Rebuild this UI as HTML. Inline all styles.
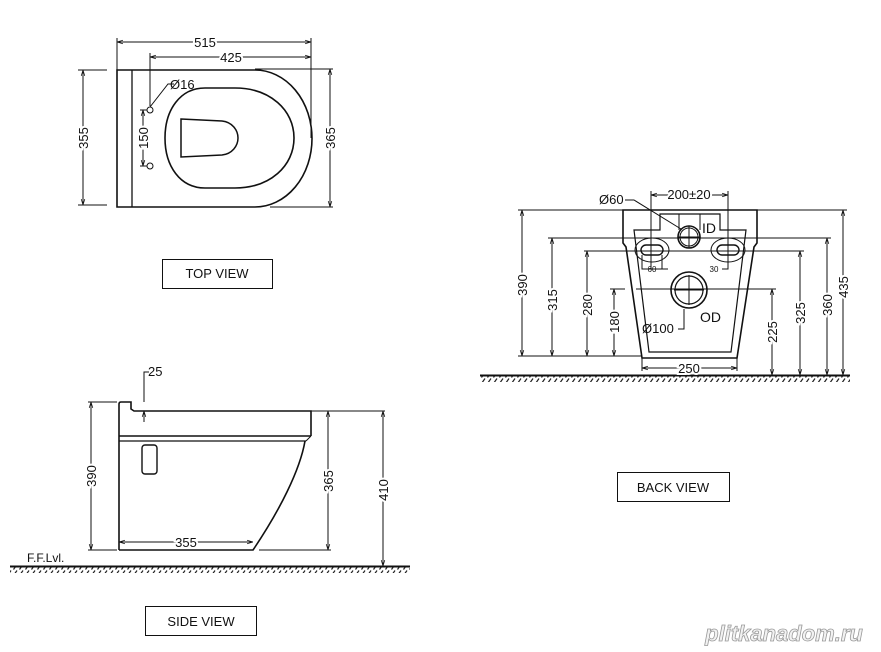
<!DOCTYPE html>
<html><head><meta charset="utf-8"><style>
html,body{margin:0;padding:0;background:#fff;}
svg{display:block;}
text{font-family:"Liberation Sans",Arial,sans-serif;fill:#111;}
</style></head><body>
<svg width="881" height="652" viewBox="0 0 881 652" xmlns="http://www.w3.org/2000/svg">
<defs>
<pattern id="h" width="6" height="6" patternUnits="userSpaceOnUse">
<line x1="5" y1="0.5" x2="1.5" y2="5.5" stroke="#222" stroke-width="1.2"/>
</pattern>
<marker id="a" viewBox="0 0 10 10" refX="10" refY="5" markerWidth="6" markerHeight="6" orient="auto-start-reverse"><path d="M0,2 L10,5 L0,8" fill="none" stroke="#111" stroke-width="1.2"/></marker>
</defs>
<g fill="none" stroke="#111" stroke-width="1">
<line x1="117" y1="42" x2="311" y2="42" marker-start="url(#a)" marker-end="url(#a)"/>
<line x1="117" y1="38" x2="117" y2="70"/>
<line x1="311" y1="38" x2="311" y2="138"/>
<line x1="150" y1="57" x2="311" y2="57" marker-start="url(#a)" marker-end="url(#a)"/>
<line x1="150" y1="53" x2="150" y2="106"/>
<path d="M117,70 L255,70 A57,68.5 0 0 1 255,207 L117,207 Z" stroke-width="1.6"/>
<line x1="132" y1="70" x2="132" y2="207" stroke-width="1.3"/>
<path d="M205,88 L235,88 C270,88 294,110 294,138 C294,166 270,188 235,188 L205,188 C180,188 165,166 165,138 C165,110 180,88 205,88 Z" stroke-width="1.6"/>
<path d="M181,119 L222,121 C232,122 238,130 238,138 C238,146 232,154 222,155 L181,157 Z" stroke-width="1.5"/>
<circle cx="150" cy="110" r="3"/><circle cx="150" cy="166" r="3"/>
<polyline points="150,107 168,84 174,84"/>
<line x1="143" y1="110" x2="143" y2="166" marker-start="url(#a)" marker-end="url(#a)"/>
<line x1="140" y1="110" x2="147" y2="110"/><line x1="140" y1="166" x2="147" y2="166"/>
<line x1="83" y1="70" x2="83" y2="205" marker-start="url(#a)" marker-end="url(#a)"/>
<line x1="78" y1="70" x2="107" y2="70"/><line x1="78" y1="205" x2="107" y2="205"/>
<line x1="330" y1="69" x2="330" y2="207" marker-start="url(#a)" marker-end="url(#a)"/>
<line x1="255" y1="69" x2="333" y2="69"/><line x1="270" y1="207" x2="333" y2="207"/>
<rect x="162.5" y="259.5" width="110" height="29"/>

<rect x="480" y="376" width="370" height="6" fill="url(#h)" stroke="none"/>
<line x1="480" y1="375.5" x2="850" y2="375.5" stroke-width="2"/>
<path d="M623,210 L757,210 L757,243 L754,247 L737,358 L642,358 L626,247 L623,243 Z" stroke-width="1.6"/>
<path d="M634,230 L660,230 L660,214 L720,214 L720,230 L746,230 L731,352 L649,352 Z" stroke-width="1.2"/>
<circle cx="689" cy="237" r="11" stroke-width="1.6"/><circle cx="689" cy="237" r="9"/>
<line x1="678" y1="237" x2="700" y2="237"/><line x1="689" y1="226" x2="689" y2="248"/>
<line x1="679" y1="214" x2="679" y2="230"/><line x1="700" y1="214" x2="700" y2="230"/>
<circle cx="689" cy="290" r="18" stroke-width="1.6"/><circle cx="689" cy="290" r="14" stroke-width="1.2"/>
<line x1="674" y1="290" x2="704" y2="290"/><line x1="689" y1="275" x2="689" y2="305"/>
<rect x="641" y="245" width="22" height="10" rx="5" stroke-width="1.4"/>
<ellipse cx="652" cy="250" rx="17" ry="12"/>
<rect x="717" y="245" width="22" height="10" rx="5" stroke-width="1.4"/>
<ellipse cx="728" cy="250" rx="17" ry="12"/>
<polyline points="642,255 642,269 668,269"/><polyline points="662,255 662,269"/>
<polyline points="722,269 728,269 728,255"/>
<line x1="651" y1="195" x2="728" y2="195" marker-start="url(#a)" marker-end="url(#a)"/>
<line x1="651" y1="191" x2="651" y2="269"/><line x1="728" y1="191" x2="728" y2="269"/>
<polyline points="625,200 634,200 681,229"/>
<polyline points="678,329 684,329 684,309"/>
<line x1="518" y1="210" x2="847" y2="210"/>
<line x1="548" y1="238" x2="831" y2="238"/>
<line x1="584" y1="251" x2="804" y2="251"/>
<line x1="610" y1="289" x2="625" y2="289"/><line x1="636" y1="289" x2="776" y2="289"/>
<line x1="518" y1="356" x2="642" y2="356"/>
<line x1="522" y1="210" x2="522" y2="356" marker-start="url(#a)" marker-end="url(#a)"/>
<line x1="552" y1="238" x2="552" y2="356" marker-start="url(#a)" marker-end="url(#a)"/>
<line x1="587" y1="251" x2="587" y2="356" marker-start="url(#a)" marker-end="url(#a)"/>
<line x1="614" y1="289" x2="614" y2="356" marker-start="url(#a)" marker-end="url(#a)"/>
<line x1="772" y1="289" x2="772" y2="375" marker-start="url(#a)" marker-end="url(#a)"/>
<line x1="800" y1="251" x2="800" y2="375" marker-start="url(#a)" marker-end="url(#a)"/>
<line x1="827" y1="238" x2="827" y2="375" marker-start="url(#a)" marker-end="url(#a)"/>
<line x1="843" y1="210" x2="843" y2="375" marker-start="url(#a)" marker-end="url(#a)"/>
<line x1="642" y1="368" x2="737" y2="368" marker-start="url(#a)" marker-end="url(#a)"/>
<line x1="642" y1="358" x2="642" y2="371"/><line x1="737" y1="358" x2="737" y2="371"/>
<rect x="617.5" y="472.5" width="112" height="29"/>

<rect x="10" y="567" width="400" height="6" fill="url(#h)" stroke="none"/>
<line x1="10" y1="566.5" x2="410" y2="566.5" stroke-width="2"/>
<path d="M119,550 L119,404 Q119,402 121,402 L131,402 L131,409 L134,411 L311,411 L311,436" stroke-width="1.6"/>
<path d="M119,550 L253,550 C280,510 300,470 305,441" stroke-width="1.6"/>
<line x1="119" y1="436" x2="311" y2="436" stroke-width="1.4"/>
<line x1="119" y1="441" x2="306" y2="441" stroke-width="1.2"/>
<line x1="311" y1="436" x2="306" y2="441"/>
<rect x="142" y="445" width="15" height="29" rx="3" stroke-width="1.4"/>
<line x1="91" y1="402" x2="91" y2="550" marker-start="url(#a)" marker-end="url(#a)"/>
<line x1="88" y1="402" x2="117" y2="402"/><line x1="88" y1="550" x2="117" y2="550"/>
<line x1="328" y1="411" x2="328" y2="550" marker-start="url(#a)" marker-end="url(#a)"/>
<line x1="268" y1="411" x2="385" y2="411"/><line x1="259" y1="550" x2="331" y2="550"/>
<line x1="383" y1="411" x2="383" y2="566" marker-start="url(#a)" marker-end="url(#a)"/>
<line x1="119" y1="542" x2="253" y2="542" marker-start="url(#a)" marker-end="url(#a)"/>
<polyline points="149,372 144,372 144,402"/>
<line x1="144" y1="411" x2="144" y2="422" marker-start="url(#a)"/>
<rect x="145.5" y="606.5" width="111" height="29"/>
</g>
<g font-size="13">
<text x="205" y="47" text-anchor="middle" stroke="#fff" stroke-width="4" paint-order="stroke">515</text>
<text x="231" y="62" text-anchor="middle" stroke="#fff" stroke-width="4" paint-order="stroke">425</text>
<text x="170" y="89">Ø16</text>
<text transform="translate(148,138) rotate(-90)" text-anchor="middle" stroke="#fff" stroke-width="4" paint-order="stroke">150</text>
<text transform="translate(88,138) rotate(-90)" text-anchor="middle" stroke="#fff" stroke-width="4" paint-order="stroke">355</text>
<text transform="translate(335,138) rotate(-90)" text-anchor="middle" stroke="#fff" stroke-width="4" paint-order="stroke">365</text>
<text x="217" y="278" text-anchor="middle">TOP VIEW</text>
<text x="689" y="199" text-anchor="middle" stroke="#fff" stroke-width="4" paint-order="stroke">200±20</text>
<text x="599" y="204">Ø60</text>
<text x="702" y="233" font-size="14">ID</text>
<text x="700" y="322" font-size="14">OD</text>
<text x="642" y="333">Ø100</text>
<text x="652" y="272" font-size="8" text-anchor="middle">60</text>
<text x="714" y="272" font-size="8" text-anchor="middle">30</text>
<text x="689" y="373" text-anchor="middle" stroke="#fff" stroke-width="4" paint-order="stroke">250</text>
<text transform="translate(527,285) rotate(-90)" text-anchor="middle" stroke="#fff" stroke-width="4" paint-order="stroke">390</text>
<text transform="translate(557,300) rotate(-90)" text-anchor="middle" stroke="#fff" stroke-width="4" paint-order="stroke">315</text>
<text transform="translate(592,305) rotate(-90)" text-anchor="middle" stroke="#fff" stroke-width="4" paint-order="stroke">280</text>
<text transform="translate(619,322) rotate(-90)" text-anchor="middle" stroke="#fff" stroke-width="4" paint-order="stroke">180</text>
<text transform="translate(777,332) rotate(-90)" text-anchor="middle" stroke="#fff" stroke-width="4" paint-order="stroke">225</text>
<text transform="translate(805,313) rotate(-90)" text-anchor="middle" stroke="#fff" stroke-width="4" paint-order="stroke">325</text>
<text transform="translate(832,305) rotate(-90)" text-anchor="middle" stroke="#fff" stroke-width="4" paint-order="stroke">360</text>
<text transform="translate(848,287) rotate(-90)" text-anchor="middle" stroke="#fff" stroke-width="4" paint-order="stroke">435</text>
<text x="673" y="492" text-anchor="middle">BACK VIEW</text>
<text x="148" y="376">25</text>
<text transform="translate(96,476) rotate(-90)" text-anchor="middle" stroke="#fff" stroke-width="4" paint-order="stroke">390</text>
<text transform="translate(333,481) rotate(-90)" text-anchor="middle" stroke="#fff" stroke-width="4" paint-order="stroke">365</text>
<text transform="translate(388,490) rotate(-90)" text-anchor="middle" stroke="#fff" stroke-width="4" paint-order="stroke">410</text>
<text x="186" y="547" text-anchor="middle" stroke="#fff" stroke-width="4" paint-order="stroke">355</text>
<text x="27" y="562" font-size="12">F.F.Lvl.</text>
<text x="201" y="626" text-anchor="middle">SIDE VIEW</text>
</g>
<text x="784" y="641" font-size="22" font-weight="bold" text-anchor="middle" font-style="italic" style="fill:#f2f2f2;stroke:#999;stroke-width:0.8">plitkanadom.ru</text>
</svg>
</body></html>
